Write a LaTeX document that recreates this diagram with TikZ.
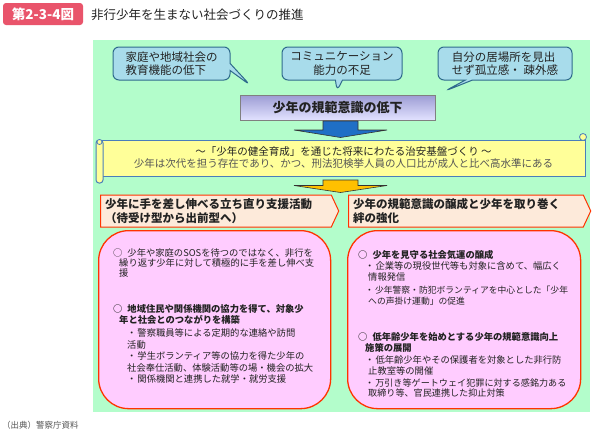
\documentclass[tikz,border=0pt]{standalone}
\usepackage{fontspec}
\setmainfont{Noto Sans CJK JP}
\usetikzlibrary{shapes.callouts,shapes.symbols}
\definecolor{badgered}{HTML}{E9546B}
\definecolor{panelgreen}{HTML}{B3FDCB}
\definecolor{calloutfill}{HTML}{A8DCEB}
\definecolor{calloutborder}{HTML}{2F6B8C}
\definecolor{lavtop}{HTML}{9C9CD4}
\definecolor{lavbot}{HTML}{E2E2FF}
\definecolor{arrowblue}{HTML}{1F6FC6}
\definecolor{arroworange}{HTML}{FFC000}
\definecolor{scrollfill}{HTML}{FFFF99}
\definecolor{scrollline}{HTML}{4A7EBB}
\definecolor{hdrfill}{HTML}{FDEADA}
\definecolor{redline}{HTML}{FF3300}
\definecolor{pinkfill}{HTML}{FFCCFF}
\definecolor{textdark}{HTML}{222222}
\definecolor{textgrey}{HTML}{555555}
\newcommand{\fs}[2]{\fontsize{#1}{#2}\selectfont}
\begin{document}
\begin{tikzpicture}[x=1pt,y=-1pt,
  badge/.style={rectangle, rounded corners=3pt, fill=badgered, text=white, font=\fs{13.5}{15}\bfseries, minimum width=80, minimum height=22, inner sep=0},
  panel/.style={rectangle, fill=panelgreen, anchor=north west, inner sep=0},
  callbox/.style={rectangle callout, rounded corners=6pt, draw=calloutborder, fill=calloutfill, line width=1pt, minimum height=33, inner sep=2pt, font=\fs{11.5}{13.5}\selectfont, text=textdark, align=left},
  lowbox/.style={rectangle, draw=gray, line width=0.8pt, top color=lavtop, bottom color=lavbot, minimum width=195, minimum height=25, font=\fs{13}{15}\bfseries, text=textdark},
  blockarrow/.style={draw=black!80, line width=0.6pt},
  scrollbox/.style={rectangle, draw=scrollline, fill=scrollfill, line width=1pt, minimum width=484, minimum height=36, inner sep=0, align=center},
  hdr/.style={signal, signal to=east, signal pointer angle=130, draw=redline, fill=hdrfill, line width=1pt, minimum height=32, inner sep=3pt, font=\fs{11.5}{13.5}\bfseries, text=textdark, align=left},
  pinkbox/.style={rectangle, rounded corners=30pt, draw=redline, fill=pinkfill, line width=1.3pt, anchor=north west, inner sep=0},
  body/.style={anchor=north west, inner sep=0, align=left, text=textdark, font=\fs{9.3}{11}\selectfont},
  bodyb/.style={body, font=\fs{9.3}{10.5}\bfseries},
]
\useasboundingbox (0,0) rectangle (593,434);
\fill[white] (0,0) rectangle (593,434);

% title
\node[badge] (badge) at (43,14) {第2-3-4図};
\node[anchor=west, inner sep=0, font=\fs{12.5}{14}\selectfont, text=textdark] (title) at (91,15) {非行少年を生まない社会づくりの推進};

% green panel
\node[panel, minimum width=497, minimum height=372] (panel) at (93,40) {};

% callouts
\node[callbox, minimum width=117, callout absolute pointer={(250,85)}] (c1) at (171.5,63.5) {家庭や地域社会の\\教育機能の低下};
\node[callbox, minimum width=120, align=center, callout absolute pointer={(337,91)}] (c2) at (342,63.5) {コミュニケーション\\能力の不足};
\node[callbox, minimum width=134, callout absolute pointer={(445,91)}] (c3) at (505,63.5) {自分の居場所を見出\\せず孤立感・ 疎外感};

% low box
\node[lowbox] (low) at (337.5,107.5) {少年の規範意識の低下};

% blue arrow
\filldraw[blockarrow, fill=arrowblue] (323,121) -- (358,121) -- (358,130) -- (387,130) -- (340.5,137.5) -- (294,130) -- (323,130) -- cycle;

% scroll
\node[scrollbox] (scroll) at (343.5,158) {{\fs{10.5}{13}\selectfont\color{textdark}～「少年の健全育成」を通じた将来にわたる治安基盤づくり ～}\\{\fs{10.5}{13}\selectfont\color{textgrey}少年は次代を担う存在であり、かつ、刑法犯検挙人員の人口比が成人と比べ高水準にある}};
\draw[draw=scrollline, fill=scrollfill, line width=1pt, rounded corners=3pt] (96,140) rectangle (103,183);
\draw[draw=scrollline, fill=scrollfill, line width=0.8pt] (99.5,142) circle (2.5);
\draw[draw=scrollline, fill=scrollfill, line width=0.8pt] (583,137) circle (3.5);

% orange arrow
\filldraw[blockarrow, fill=arroworange] (323,180) -- (358,180) -- (358,185.5) -- (387,185.5) -- (340.5,192.5) -- (294,185.5) -- (323,185.5) -- cycle;

% pink boxes
\node[pinkbox, minimum width=232, minimum height=178] (p1) at (98,230) {};
\node[pinkbox, minimum width=233, minimum height=178] (p2) at (347,230) {};

% headers
\node[hdr, minimum width=238, text width=222] (h1) at (216,211) {少年に手を差し伸べる立ち直り支援活動\\（待受け型から出前型へ）};
\node[hdr, minimum width=242, text width=226] (h2) at (466,211) {少年の規範意識の醸成と少年を取り巻く\\絆の強化};

% left texts
\node[body, font=\fs{9.3}{10.2}\selectfont] (l1) at (113,248.5) {○\hspace{5pt}少年や家庭のSOSを待つのではなく、非行を\\\hspace*{6pt}繰り返す少年に対して積極的に手を差し伸べ支\\\hspace*{6pt}援};
\node[bodyb] (l2) at (113,304.5) {○\hspace{5pt}地域住民や関係機関の協力を得て、対象少\\\hspace*{6pt}年と社会とのつながりを構築};
\node[body, font=\fs{9.3}{11.5}\selectfont] (l3) at (127,328.5) {・\hspace{1pt}警察職員等による定期的な連絡や訪問\\活動\\・\hspace{1pt}学生ボランティア等の協力を得た少年の\\社会奉仕活動、体験活動等の場・機会の拡大\\・\hspace{1pt}関係機関と連携した就学・就労支援};

% right texts
\node[bodyb] (r1) at (358,250.5) {○\hspace{5pt}少年を見守る社会気運の醸成};
\node[body] (r2) at (365,261) {・\hspace{1pt}企業等の現役世代等も対象に含めて、幅広く\\\hspace*{3pt}情報発信};
\node[body, font=\fs{8.8}{11}\selectfont] (r3) at (365,286) {・\hspace{1pt}少年警察・防犯ボランティアを中心とした「少年\\\hspace*{3pt}への声掛け運動」の促進};
\node[bodyb] (r4) at (358,332.5) {○\hspace{5pt}低年齢少年を始めとする少年の規範意識向上\\\hspace*{7pt}施策の展開};
\node[body, font=\fs{9.3}{10.5}\selectfont] (r5) at (365,355.5) {・\hspace{1pt}低年齢少年やその保護者を対象とした非行防\\\hspace*{3pt}止教室等の開催};
\node[body, font=\fs{9.1}{10.5}\selectfont] (r6) at (365,378.5) {・\hspace{1pt}万引き等ゲートウェイ犯罪に対する感銘力ある\\\hspace*{3pt}取締り等、官民連携した抑止対策};

% footer
\node[anchor=west, inner sep=0, font=\fs{8.5}{10}\selectfont, text=textgrey] (src) at (2,425) {（出典）警察庁資料};
\end{tikzpicture}
\end{document}
